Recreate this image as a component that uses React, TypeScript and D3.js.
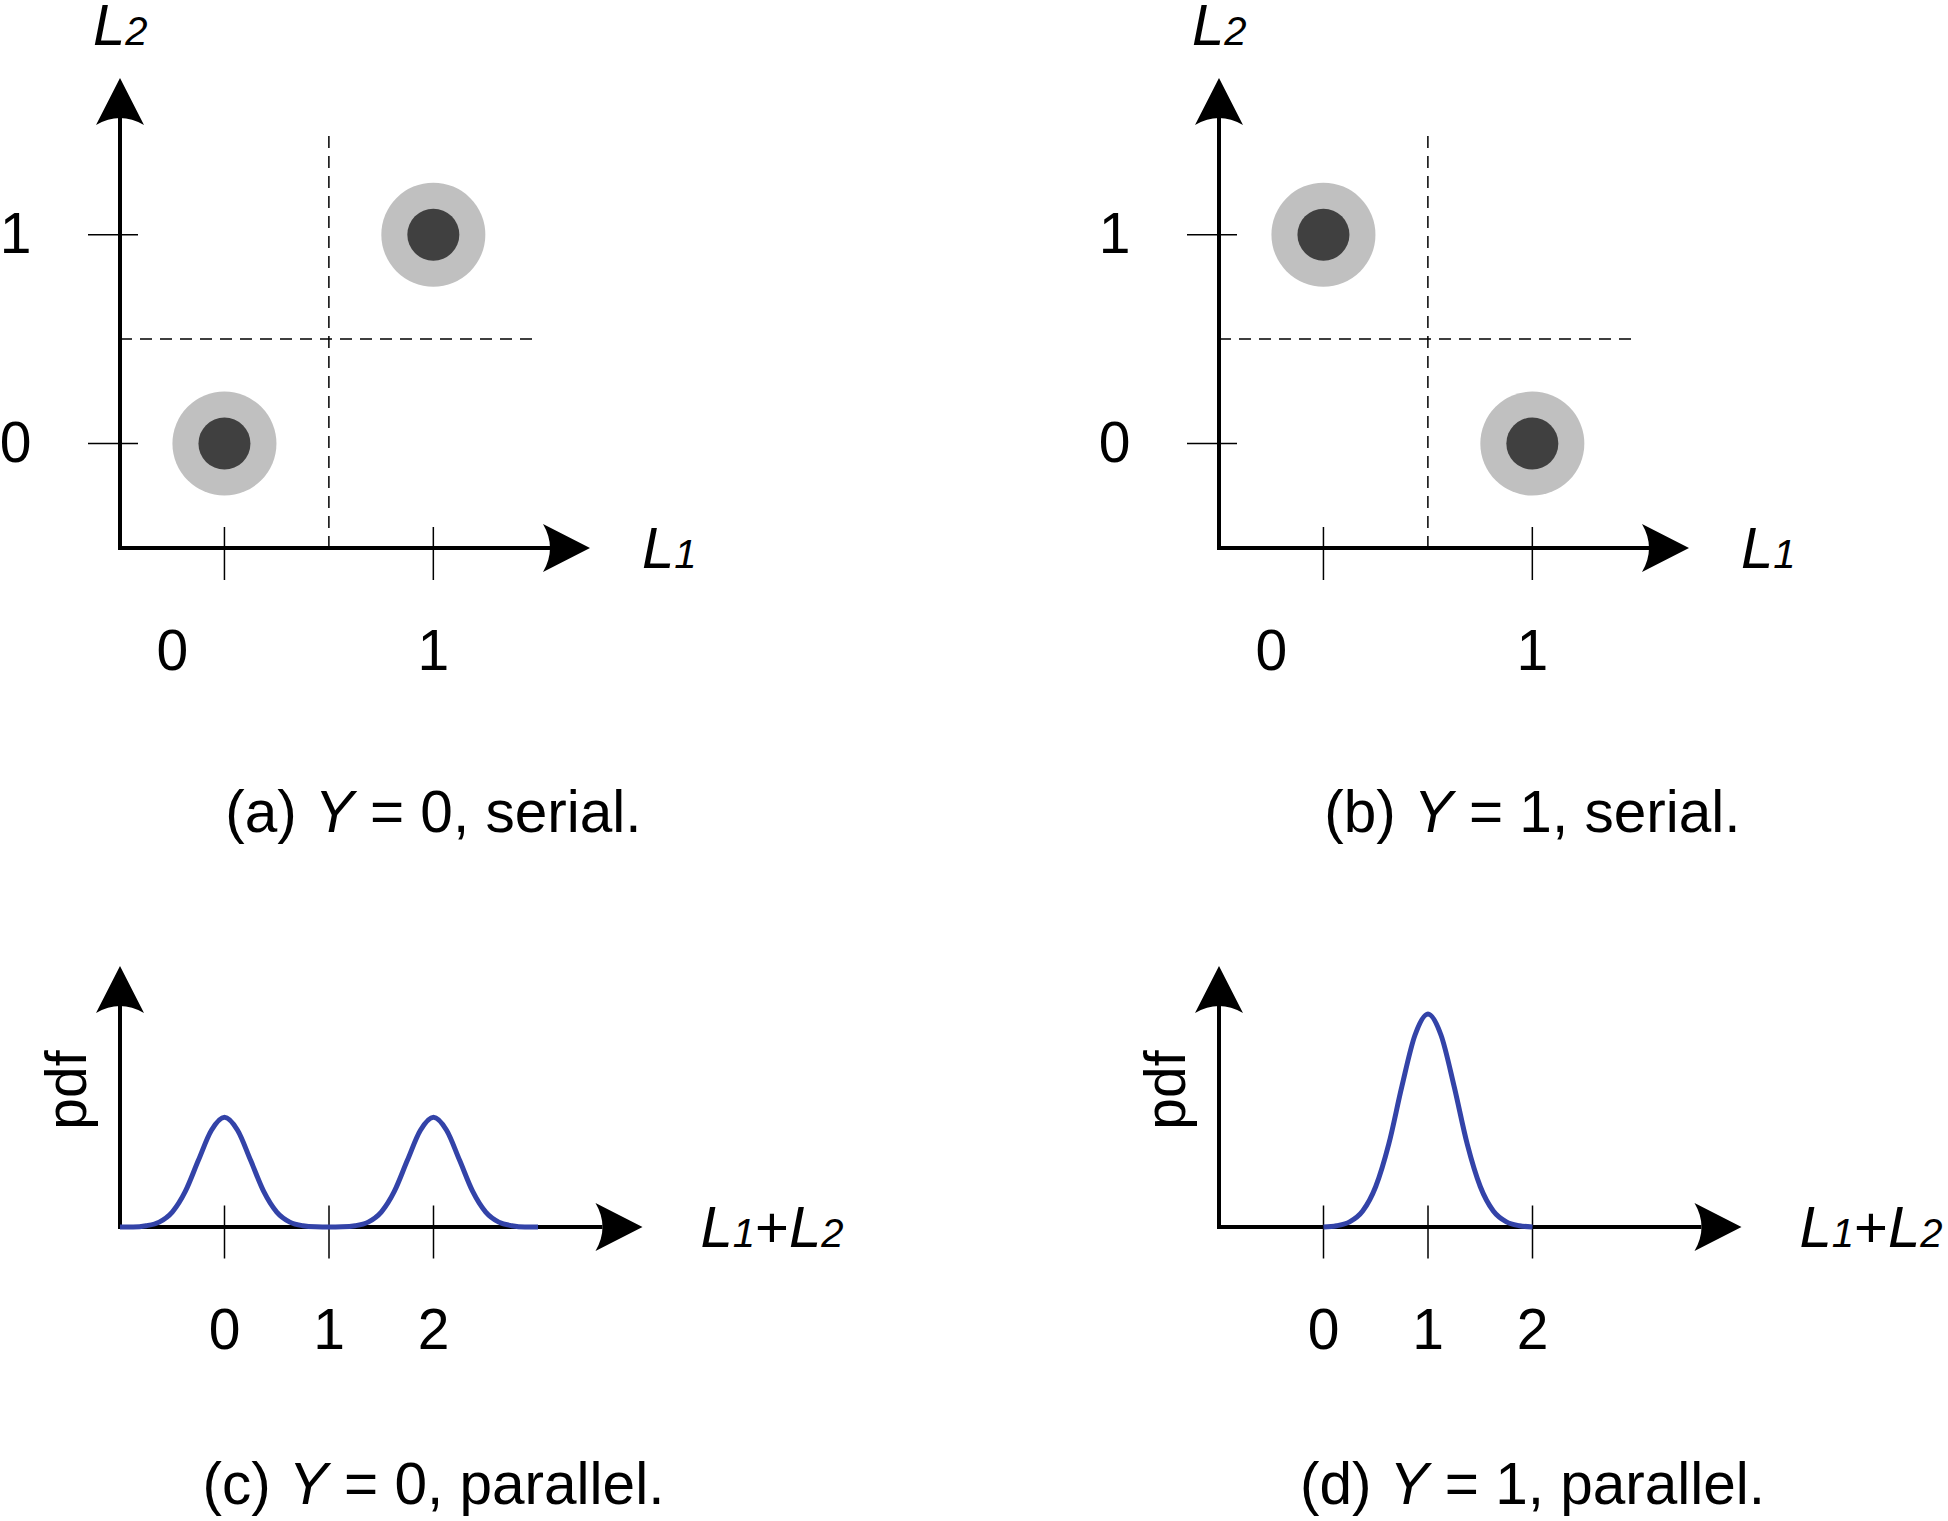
import React from 'react';
import * as d3 from 'd3';

// ---- data ----
const serialTicks = [0, 1];
const serialThreshold = 0.5;
const serialAL1 = [0, 1];
const serialAL2 = [0, 1];
const serialBL1 = [0, 1];
const serialBL2 = [1, 0];

const sumTicks = [0, 1, 2];

// pdf of L1+L2 (two bumps) and panel (d) (one bump)
const pdfCX = [-1, -0.875, -0.75, -0.625, -0.5, -0.375, -0.25, -0.125, 0, 0.125, 0.25, 0.375, 0.5, 0.625, 0.75, 0.875, 1,
  1.125, 1.25, 1.375, 1.5, 1.625, 1.75, 1.875, 2, 2.125, 2.25, 2.375, 2.5, 2.625, 2.75, 2.875, 3];
const pdfCY = [0, 0, 0.006, 0.023, 0.07, 0.167, 0.313, 0.454, 0.515, 0.454, 0.313, 0.167, 0.07, 0.023, 0.006, 0.001, 0,
  0.001, 0.006, 0.023, 0.07, 0.167, 0.313, 0.454, 0.515, 0.454, 0.313, 0.167, 0.07, 0.023, 0.006, 0, 0];
const pdfDX = [0, 0.125, 0.25, 0.375, 0.5, 0.625, 0.75, 0.875, 1, 1.125, 1.25, 1.375, 1.5, 1.625, 1.75, 1.875, 2];
const pdfDY = [0, 0.006, 0.024, 0.075, 0.19, 0.39, 0.66, 0.9, 1, 0.9, 0.66, 0.39, 0.19, 0.075, 0.024, 0.006, 0];

const captionLetters = ['a', 'b', 'c', 'd'];
const captionYValues = ['0', '1', '0', '1'];
const captionModes = ['serial', 'serial', 'parallel', 'parallel'];

const W = 1948;
const H = 1521;
const FONT = "'Liberation Sans', Arial, Helvetica, sans-serif";
const PANEL_DX = 1099;
const ARROW_LEN = 47;
const ARROW_HALF = 24;
const ARROW_NOTCH = 7;

const arrowUp = (x: number, tip: number) =>
  `M${x},${tip} L${x + ARROW_HALF},${tip + ARROW_LEN} Q${x},${tip + ARROW_LEN - 2 * ARROW_NOTCH} ${x - ARROW_HALF},${tip + ARROW_LEN} Z`;
const arrowRight = (tip: number, y: number) =>
  `M${tip},${y} L${tip - ARROW_LEN},${y + ARROW_HALF} Q${tip - ARROW_LEN + 2 * ARROW_NOTCH},${y} ${tip - ARROW_LEN},${y - ARROW_HALF} Z`;

const SubLabel: React.FC<{ x: number; y: number; parts: [string, string][] }> = ({ x, y, parts }) => (
  <text x={x} y={y} fontFamily={FONT} fill="#000">
    {parts.map(([main, sub], i) => (
      <React.Fragment key={i}>
        {main === '+' ? (
          <tspan fontSize={58}>+</tspan>
        ) : (
          <tspan fontSize={58} fontStyle="italic">{main}</tspan>
        )}
        {sub && <tspan fontSize={40} fontStyle="italic">{sub}</tspan>}
      </React.Fragment>
    ))}
  </text>
);

const Caption: React.FC<{ x: number; y: number; idx: number }> = ({ x, y, idx }) => (
  <text x={x} y={y} textAnchor="middle" fontFamily={FONT} fontSize={58.5} fill="#000">
    {`(${captionLetters[idx]})`}
    <tspan dx={18} fontStyle="italic">Y</tspan>
    {` = ${captionYValues[idx]}, ${captionModes[idx]}.`}
  </text>
);

const SerialPanel: React.FC<{ dx: number; l1: number[]; l2: number[]; idx: number }> = ({ dx, l1, l2, idx }) => {
  const x = d3.scaleLinear().domain([-0.5, 1.75]).range([120 + dx, 590 + dx]);
  const y = d3.scaleLinear().domain([-0.5, 1.75]).range([548, 78]);
  const x0 = x(-0.5);
  const y0 = y(-0.5);
  const xEnd = x(1.75);
  const yEnd = y(1.75);
  const xLabelNudge = [-52, 0];
  return (
    <g>
      {/* dashed decision boundaries */}
      <line x1={x(serialThreshold)} x2={x(serialThreshold)} y1={y0} y2={y(1.5)}
        stroke="#000" strokeWidth={1.5} strokeDasharray="12,8" />
      <line x1={x0} x2={x(1.5)} y1={y(serialThreshold)} y2={y(serialThreshold)}
        stroke="#000" strokeWidth={1.5} strokeDasharray="12,8" />
      {/* points */}
      {l1.map((v, i) => (
        <g key={i}>
          <circle cx={x(v)} cy={y(l2[i])} r={52} fill="#c0c0c0" />
          <circle cx={x(v)} cy={y(l2[i])} r={26} fill="#404040" />
        </g>
      ))}
      {/* ticks */}
      {serialTicks.map((t) => (
        <g key={'t' + t}>
          <line x1={x(t)} x2={x(t)} y1={y0 - 21} y2={y0 + 32} stroke="#000" strokeWidth={1.5} />
          <line x1={x0 - 32} x2={x0 + 18} y1={y(t)} y2={y(t)} stroke="#000" strokeWidth={1.5} />
          <text x={x(t) + xLabelNudge[t]} y={y0 + 122} textAnchor="middle" fontFamily={FONT} fontSize={57}>{t}</text>
          <text x={x0 - 88.5} y={y(t) + 18.5} textAnchor="end" fontFamily={FONT} fontSize={57}>{t}</text>
        </g>
      ))}
      {/* axes */}
      <path d={`M${x0},${yEnd + 40} V${y0} H${xEnd - 40}`} fill="none" stroke="#000" strokeWidth={4} strokeLinejoin="miter" />
      <path d={arrowUp(x0, yEnd)} fill="#000" />
      <path d={arrowRight(xEnd, y0)} fill="#000" />
      <SubLabel x={x0 - 27} y={45} parts={[['L', '2']]} />
      <SubLabel x={xEnd + 52} y={y0 + 20} parts={[['L', '1']]} />
      <Caption x={x(1)} y={832} idx={idx} />
    </g>
  );
};

const ParallelPanel: React.FC<{ dx: number; px: number[]; py: number[]; idx: number }> = ({ dx, px, py, idx }) => {
  const x = d3.scaleLinear().domain([-1, 4]).range([120 + dx, 642.5 + dx]);
  const y = d3.scaleLinear().domain([0, 1.225]).range([1227, 966]);
  const x0 = x(-1);
  const y0 = y(0);
  const xEnd = x(4);
  const yEnd = y(1.225);
  const line = d3.line<number>()
    .x((_, i) => x(px[i]))
    .y((d) => y(d))
    .curve(d3.curveMonotoneX);
  return (
    <g>
      {sumTicks.map((t) => (
        <g key={'t' + t}>
          <line x1={x(t)} x2={x(t)} y1={y0 - 21.5} y2={y0 + 31.5} stroke="#000" strokeWidth={1.5} />
          <text x={x(t)} y={y0 + 121.5} textAnchor="middle" fontFamily={FONT} fontSize={57}>{t}</text>
        </g>
      ))}
      <path d={`M${x0},${yEnd + 40} V${y0} H${xEnd - 40}`} fill="none" stroke="#000" strokeWidth={4} strokeLinejoin="miter" />
      <path d={arrowUp(x0, yEnd)} fill="#000" />
      <path d={arrowRight(xEnd, y0)} fill="#000" />
      <path d={line(py) || ''} fill="none" stroke="#3343a8" strokeWidth={5} strokeLinejoin="round" />
      <text transform={`translate(${x0 - 34.5},1090) rotate(-90)`} textAnchor="middle" fontFamily={FONT} fontSize={57}>pdf</text>
      <SubLabel x={xEnd + 58} y={y0 + 20} parts={[['L', '1'], ['+', ''], ['L', '2']]} />
      <Caption x={x(2)} y={1504} idx={idx} />
    </g>
  );
};

const App: React.FC = () => (
  <svg width={W} height={H} viewBox={`0 0 ${W} ${H}`}
    style={{ position: 'absolute', left: 0, top: 0, background: '#fff' }}>
    <rect width={W} height={H} fill="#fff" />
    <SerialPanel dx={0} l1={serialAL1} l2={serialAL2} idx={0} />
    <SerialPanel dx={PANEL_DX} l1={serialBL1} l2={serialBL2} idx={1} />
    <ParallelPanel dx={0} px={pdfCX} py={pdfCY} idx={2} />
    <ParallelPanel dx={PANEL_DX} px={pdfDX} py={pdfDY} idx={3} />
  </svg>
);

export default App;
